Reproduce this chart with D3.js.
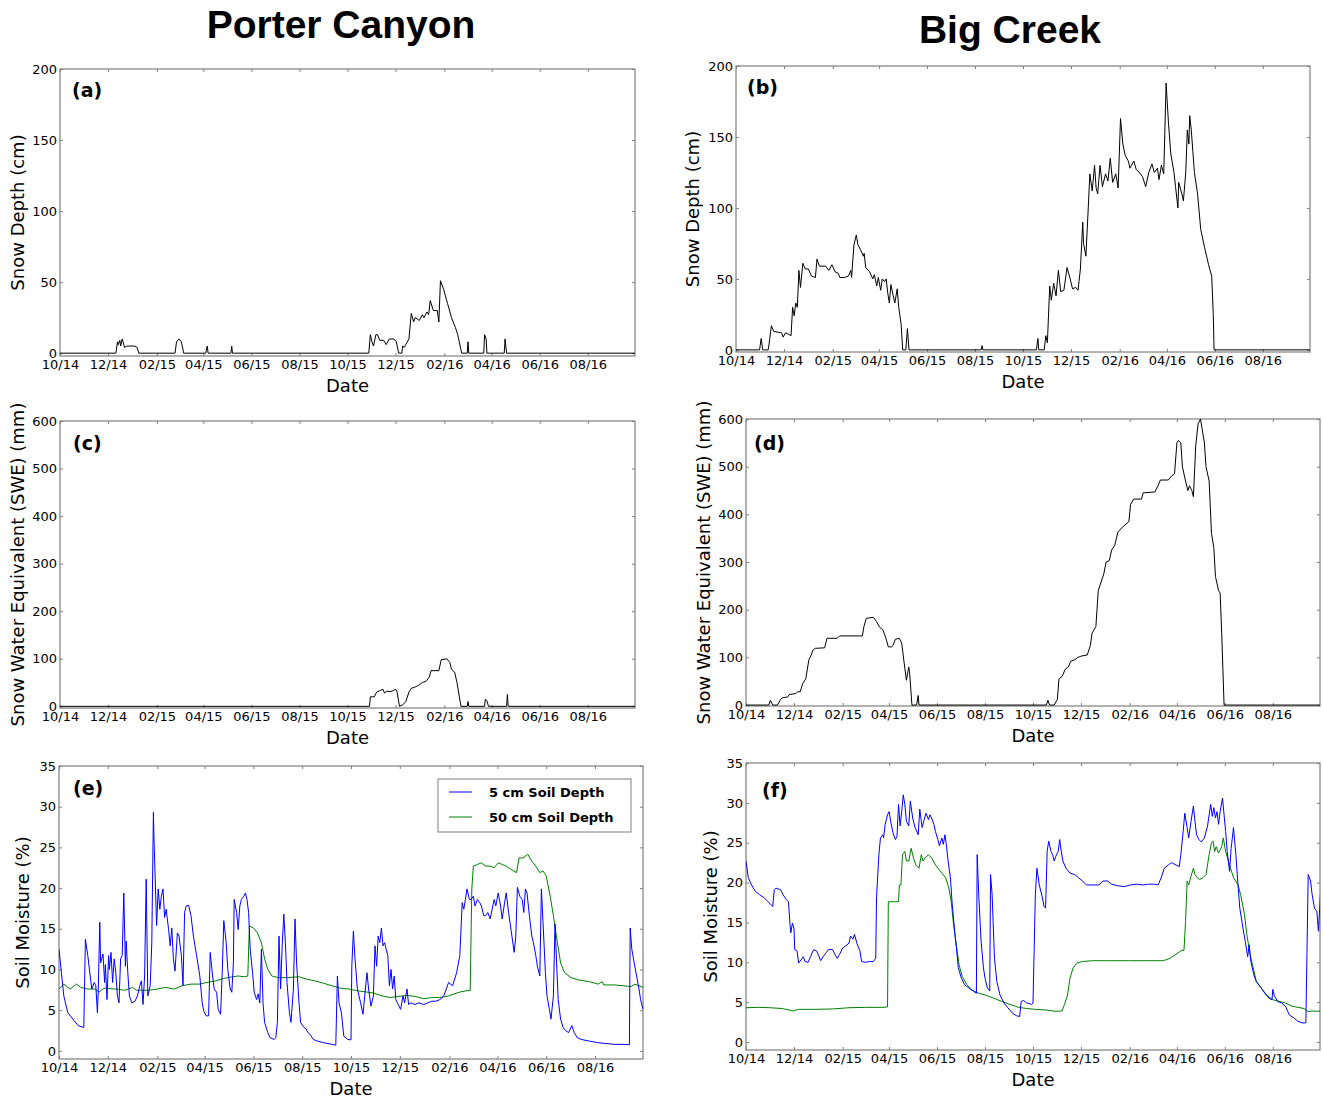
<!DOCTYPE html>
<html><head><meta charset="utf-8">
<script src="https://cdn.jsdelivr.net/npm/d3@7"></script>
<style>
body{margin:0;background:#fff}
svg{display:block}
</style>
</head><body>
<svg id="chart" width="1323" height="1097"></svg>
<script>
// ---------------- DATA ----------------
const startDate = "2014-10-01";
const endDate = "2016-09-30";
const tickDates = ["2014-10-01","2014-12-01","2015-02-01","2015-04-01","2015-06-01","2015-08-01",
                   "2015-10-01","2015-12-01","2016-02-01","2016-04-01","2016-06-01","2016-08-01"];
const tickLabels = ["10/14","12/14","02/15","04/15","06/15","08/15","10/15","12/15","02/16","04/16","06/16","08/16"];
const depthTicks = [0,50,100,150,200];
const sweTicks = [0,100,200,300,400,500,600];
const soilTicks = [0,5,10,15,20,25,30,35];
const columnTitles = ["Porter Canyon","Big Creek"];
const legendLabels = ["5 cm Soil Depth","50 cm Soil Depth"];

// day offsets are days since startDate
// (a) Porter Canyon snow depth (cm)
const porterDepthDays = [
  0,71,73,74,76,77,79,82,85,95,
  98,100,146,148,151,154,156,157,185,187,
  188,217,218,219,392,394,396,398,401,403,
  406,411,414,418,424,427,430,434,435,437,
  439,443,446,449,451,456,460,462,466,468,
  470,474,479,481,483,487,492,497,502,505,
  508,510,517,518,519,538,539,541,542,564,
  565,567,730];
const porterDepth = [
  0,0,8,6,9,5,10,4,5,5,
  4,0,0,8,10,8,3,0,0,5,
  0,0,5,0,0,13,8,5,13,13,
  9,9,6,10,10,8,0,0,5,4,
  6,10,28,22,25,23,27,25,29,27,
  37,30,30,22,51,45,35,25,18,13,
  5,0,0,8,0,0,13,10,0,0,
  10,0,0];

// (b) Big Creek snow depth (cm)
const bigDepthDays = [
  0,30,32,34,41,43,45,48,58,60,
  63,67,70,72,74,76,78,80,82,85,
  88,92,96,101,103,106,114,118,122,126,
  130,132,138,143,146,147,150,153,155,158,
  162,163,165,170,174,176,179,181,184,186,
  189,191,193,195,197,200,202,205,207,210,
  212,216,218,220,312,313,314,382,384,385,
  392,394,396,399,401,404,407,410,413,417,
  421,425,428,432,435,438,441,442,445,448,
  450,453,456,458,460,463,466,470,473,476,
  479,483,486,489,492,495,499,501,506,509,
  513,517,521,525,529,532,536,538,541,544,
  547,550,553,557,559,562,563,567,569,572,
  574,576,577,579,581,583,587,591,596,601,
  605,607,608,730];
const bigDepth = [
  0,0,8,0,0,8,17,13,12,9,
  12,11,10,30,24,33,30,56,44,61,
  57,57,52,51,64,59,59,56,60,55,
  54,51,51,52,56,51,74,81,74,71,
  66,68,58,55,50,53,45,51,42,50,
  48,50,40,33,46,38,33,43,30,18,
  0,0,15,0,0,3,0,0,8,0,
  0,10,5,45,35,47,38,56,41,42,
  58,50,43,44,42,57,90,75,66,100,
  124,112,130,114,110,130,115,124,119,135,
  118,124,114,163,145,137,133,128,133,127,
  125,122,115,125,131,125,128,120,130,124,
  188,160,138,125,115,100,118,110,105,125,
  155,145,165,155,140,125,110,85,72,60,
  52,25,0,0];

// (c) Porter Canyon SWE (mm)
const porterSweDays = [
  0,393,394,399,402,406,410,412,415,419,
  423,426,428,431,435,439,443,446,450,455,
  460,465,469,471,481,484,491,495,497,501,
  504,507,509,517,518,519,539,540,542,544,
  567,568,569,730];
const porterSwe = [
  0,0,20,20,30,33,36,28,32,31,
  33,36,30,0,3,10,30,38,40,44,
  50,53,62,75,75,98,100,92,78,72,
  50,20,0,0,10,0,0,15,12,0,
  0,25,0,0];

// (d) Big Creek SWE (mm)
const bigSweDays = [
  0,29,31,34,40,44,46,53,55,63,
  66,69,72,76,80,83,85,88,100,103,
  116,119,148,150,153,162,166,170,174,178,
  181,185,187,190,195,198,201,204,207,208,
  211,217,219,220,382,384,386,392,396,398,
  402,406,410,413,418,422,427,434,438,440,
  445,448,452,455,458,462,465,469,473,480,
  487,489,493,503,505,520,524,527,537,541,
  545,548,550,553,555,559,562,564,567,569,
  572,575,578,580,583,585,589,592,595,597,
  601,603,605,608,730];
const bigSwe = [
  0,0,10,0,0,12,15,17,22,24,
  28,28,45,55,95,105,115,119,120,140,
  140,145,145,165,182,184,175,163,158,140,
  122,122,125,138,140,130,90,52,80,70,
  0,0,20,0,0,10,0,0,12,55,
  60,75,80,92,95,100,103,105,125,150,
  165,240,260,275,300,303,325,335,363,375,
  385,420,432,432,445,447,460,472,472,480,
  485,550,555,550,500,470,450,460,450,437,
  545,590,600,580,550,500,470,360,330,270,
  240,235,150,0,0];

// (e) Porter Canyon soil moisture (%)
const porterSoil5Days = [
  0,3,6,11,19,24,30,31,33,36,
  39,41,44,46,48,49,51,52,55,57,
  58,60,62,63,65,67,69,71,73,75,
  77,79,81,83,84,86,88,91,95,98,
  101,103,105,107,109,111,114,116,118,119,
  122,124,126,128,130,132,134,137,139,141,
  143,145,148,150,153,155,157,159,162,165,
  168,172,176,179,181,184,187,189,192,194,
  197,199,202,204,206,209,211,214,216,218,
  219,222,224,226,228,231,233,235,237,239,
  242,244,247,249,251,253,255,257,261,264,
  269,271,273,275,277,279,281,283,285,288,
  290,293,295,297,300,302,306,309,311,314,
  318,323,331,341,346,348,350,353,356,361,
  365,366,368,370,373,377,380,383,385,387,
  390,393,395,397,399,401,403,405,407,409,
  411,413,415,417,419,421,423,425,427,430,
  432,435,437,440,445,450,456,461,466,471,
  476,481,487,492,497,501,504,506,508,510,
  513,515,518,520,523,526,528,531,533,536,
  539,541,544,546,549,552,554,557,559,562,
  565,569,571,573,576,579,581,583,585,588,
  591,593,596,598,601,603,605,608,610,613,
  615,618,620,622,624,627,630,633,637,641,
  644,648,653,663,674,684,694,705,713,714,
  716,719,722,725,727,730];
const porterSoil5 = [
  12.5,9.6,6.75,4.7,3.7,3.1,2.9,2.9,13.7,11.7,
  9.2,7.6,8.4,8.0,4.7,7.2,15.8,10.8,11.9,8.4,
  10.6,6.3,11.7,10,12.1,8.4,11.3,9.6,6.75,5.9,
  11.3,11.7,19.4,10.4,13.5,9.6,6.75,5.9,6.1,6.75,
  8,8.6,5.7,9.2,21.1,6.75,8,13.3,29.3,25.2,
  15.4,19.9,17.4,19,19.9,16.4,17.4,14.9,12.9,15.1,
  11.3,9.8,14.5,14.1,11.7,8.0,17,17.8,17.9,16.6,
  14.1,11.7,9.2,5.9,4.9,4.3,4.3,12.1,9.2,7.6,
  7.2,5.1,4.5,9.6,16,13.3,10,7.6,7.2,10.8,
  18.6,17,14.9,17.8,18.6,19,19.4,18.6,17,12.5,
  9.6,7.2,6.3,7,5.9,12.5,5.9,3.5,2.25,1.6,
  1.4,1.6,3.5,14.1,7.6,12.9,16.8,13.3,8.4,4.7,
  3.5,7.6,16.2,10.8,5.9,3.5,2.9,2.7,2.25,2.0,
  1.4,1.2,1.0,0.8,0.7,9.2,5.9,4.7,1.8,1.4,
  1.35,10.4,14.7,11.3,7.6,5.9,4.5,7.6,9.6,7.6,
  5.5,6.75,12.9,10.4,14.1,13.3,15.1,12.9,13.3,12.5,
  11.7,8.0,10,7.6,9.2,6.3,5.9,5.5,5.1,6.75,
  5.9,7.6,5.7,5.9,5.7,5.9,5.7,5.9,6.1,6.1,
  6.3,6.75,8.4,8,9.6,11.7,18.2,17.4,18.6,19.9,
  18.6,18.6,19,17.8,18.6,18.2,17.8,16.6,16.6,17,
  16.2,17.2,18.6,17.8,19.4,17.8,16.2,18.2,19.4,17,
  14.9,12.1,14.1,20.1,19,18.6,17,19.9,19.4,16.6,
  14.1,13.3,11.7,10.4,9.2,19.9,15.8,9.6,6.75,5.1,
  3.9,6.75,15.6,10.8,6.3,3.9,2.9,2.5,2.25,3.1,
  2.25,1.6,1.4,1.2,1.0,0.9,0.8,0.8,0.75,15.1,
  12.5,10.8,9.2,7.6,6.3,5.1];
const porterSoil50Days = [
  0,4,6,11,14,19,22,27,35,45,
  50,56,71,82,92,97,113,123,133,144,
  154,165,175,185,196,206,217,224,232,236,
  238,243,248,253,257,261,266,274,284,300,
  310,320,331,341,352,362,372,383,393,404,
  414,424,435,445,456,466,476,487,494,502,
  510,514,516,518,523,528,533,539,544,549,
  554,559,565,572,575,580,586,591,596,601,
  605,609,614,618,623,627,632,640,650,663,
  674,679,681,694,705,715,720,725,730];
const porterSoil50 = [
  7.6,8,8.2,7.8,7.6,8,8.2,7.8,7.6,7.6,
  7.2,7.7,7.6,7.45,7.8,7.45,7.45,7.6,7.8,7.6,
  8,8.2,8.2,8.4,8.6,8.9,9.1,9.2,9.1,9.2,
  15.35,15.1,14.5,13.3,11.3,10,9.2,9,9,9.1,
  8.8,8.6,8.3,8,7.7,7.6,7.4,7.25,7.1,6.75,
  6.55,6.7,6.8,6.7,6.4,6.55,6.55,6.75,7,7.25,
  7.4,7.4,19.9,22.7,22.9,23.1,22.7,22.7,22.5,23.1,
  22.9,22.7,22.3,21.9,23.7,23.7,24.15,23.3,22.7,21.9,
  22.1,21.5,19,16.6,13.3,10.8,9.6,9,8.7,8.5,
  8.2,8.5,8.1,8.1,8,7.9,8.2,8,7.8];

// (f) Big Creek soil moisture (%)
const bigSoil5Days = [
  0,3,7,12,17,23,28,32,34,36,
  38,44,47,51,54,56,57,59,61,62,
  65,67,70,73,75,79,82,86,90,93,
  95,98,102,105,110,113,116,119,123,126,
  131,133,136,138,141,145,147,152,157,162,
  165,166,169,171,174,175,177,180,182,184,
  187,190,192,194,196,198,200,202,204,207,
  209,212,215,219,221,224,226,229,232,234,
  236,239,241,244,246,249,251,253,255,257,
  260,262,265,268,270,274,278,283,289,293,
  294,296,299,302,304,307,310,311,313,316,
  319,323,328,333,339,344,348,350,353,357,
  361,363,365,368,370,373,377,379,381,383,
  385,388,390,392,394,397,399,401,403,407,
  412,418,423,428,433,441,449,454,460,465,
  473,481,489,497,504,512,520,524,528,532,
  537,541,547,551,553,556,558,561,563,566,
  569,571,573,576,579,583,587,589,591,593,
  595,597,599,601,603,606,608,610,612,615,
  617,620,623,626,628,632,635,638,640,642,
  646,649,655,660,665,669,670,672,676,681,
  686,691,697,702,707,712,715,718,720,723,
  726,728,731];
const bigSoil5 = [
  22.7,20.6,19.7,18.9,18.5,18.1,17.6,17.2,17,19.1,
  19.3,19.1,18.5,17.9,17.6,14.7,13.7,14.9,14.3,11.6,
  11.4,9.9,10.3,10.7,10.1,10,10.7,11.6,11.4,10.7,
  10.2,10.7,11.2,11.6,11.6,11,10.5,11,11.8,12,
  12.4,13.3,12.9,13.5,12.4,11.4,10.1,10,10.1,10.1,
  10.5,18.1,23.5,25.6,26,25.6,27.3,28.5,28.9,27.7,
  26.2,25.4,25.8,29.8,27.1,28.9,31,29.8,27.7,27.1,
  30.2,28.1,26.9,26,29.2,26.9,27.7,28.7,27.9,28.5,
  28.1,27.3,26.4,25.4,24.6,25.6,24.8,26,24.6,22.7,
  20.6,17.6,14.3,11.4,9.3,8,7.2,6.8,6.4,6.1,
  23.5,18.5,12.6,9.3,8,6.8,6.4,21,18.5,10.5,
  7.6,5.9,4.9,4.3,3.6,3.3,3.2,5.1,5.2,4.9,
  4.8,4.7,4.9,18.5,21.8,19.7,18.1,17,16.8,23.9,
  25.2,23.9,23.5,22.7,23.3,23.9,25.4,23.9,22.7,21.8,
  21.2,21,20.6,20.2,19.7,19.7,19.7,20.2,20.2,19.8,
  19.6,19.5,19.7,19.8,19.7,19.8,19.8,19.7,20.6,21.8,
  22.2,22.5,22.2,22,23.5,26.4,28.7,26.9,25.6,27.7,
  29.6,27.7,26,25.4,25.1,25.6,27.1,28.5,29.8,28.3,
  29.4,28.1,28.9,27.3,28.9,30.6,28.5,26.4,23.9,21.4,
  24.3,26.9,23.5,19.3,16.8,14.3,12.6,10.7,12.2,10.1,
  8.4,7.6,6.8,6.1,5.5,5.3,6.6,5.8,5.1,4.9,
  4.5,3.4,3.0,2.6,2.4,2.4,21,20.2,18.5,16.8,
  16.4,13.9,19.3];
const bigSoil50Days = [
  0,15,31,46,60,67,88,110,131,152,
  173,180,181,183,189,194,195,197,199,202,
  204,207,210,213,216,220,223,225,228,232,
  236,241,249,254,258,261,264,268,271,275,
  281,286,294,304,315,325,336,347,357,368,
  383,394,402,405,409,412,416,421,428,441,
  462,489,515,531,539,547,554,557,559,561,
  563,566,569,571,574,577,581,585,589,592,
  594,596,598,601,605,607,610,615,620,626,
  629,634,637,641,646,649,655,662,670,678,
  686,694,702,710,715,720,726,731];
const bigSoil50 = [
  4.3,4.35,4.3,4.2,3.9,4.1,4.1,4.15,4.3,4.35,
  4.35,4.4,17.6,17.6,17.6,17.6,19.7,19.7,23.5,23.9,
  22.7,22.7,24.3,23.1,22.2,21.8,23.5,22.7,23.1,23.5,
  23.1,22.2,21.2,20.6,19.3,17.6,14.7,11.8,9.7,8.2,
  7.2,6.6,6.2,5.9,5.5,5.1,4.7,4.35,4.2,4.1,
  4.0,3.85,3.9,4.7,5.9,8.0,9.3,9.9,10.1,10.2,
  10.2,10.2,10.2,10.2,10.5,11,11.5,11.5,15.1,20.2,
  19.7,20.8,21.8,21,20.6,20.4,20.6,21,23.5,25,
  25.2,23.9,24.5,23.7,24.5,25.6,23.9,22.2,20.6,19.7,
  18.5,16,13.5,11,8.9,7.6,6.8,5.9,5.3,5.1,
  4.9,4.5,4.35,4.2,3.8,3.9,3.85,3.9];

// ---------------- LAYOUT ----------------
const FONT = "'DejaVu Sans', sans-serif";
const TITLE_FONT = "'Liberation Sans', Arial, sans-serif";
const BLUE = "#0000ff", GREEN = "#008000", BLACK = "#000000", FRAME = "#7f7f7f";

const panels = [
  {id:"a", box:[60,69,635,356], ydom:[-2,200], yticks:depthTicks, ytitle:"Snow Depth (cm)", toff:42, letter:"(a)", lx:12, ly:28,
   series:[{days:porterDepthDays, vals:porterDepth, color:BLACK}]},
  {id:"b", box:[736,66,1310,352], ydom:[-1.5,200], yticks:depthTicks, ytitle:"Snow Depth (cm)", toff:43, letter:"(b)", lx:11, ly:28,
   series:[{days:bigDepthDays, vals:bigDepth, color:BLACK}]},
  {id:"c", box:[60,421,635,708], ydom:[-3.5,600], yticks:sweTicks, ytitle:"Snow Water Equivalent (SWE) (mm)", toff:42, letter:"(c)", lx:13, ly:29,
   series:[{days:porterSweDays, vals:porterSwe, color:BLACK}]},
  {id:"d", box:[746,419,1320,706], ydom:[-2,600], yticks:sweTicks, ytitle:"Snow Water Equivalent (SWE) (mm)", toff:42, letter:"(d)", lx:8, ly:31,
   series:[{days:bigSweDays, vals:bigSwe, color:BLACK}]},
  {id:"e", box:[59,766,643,1059], ydom:[-1,35], yticks:soilTicks, ytitle:"Soil Moisture (%)", toff:36, letter:"(e)", lx:14, ly:29,
   series:[{days:porterSoil50Days, vals:porterSoil50, color:GREEN},{days:porterSoil5Days, vals:porterSoil5, color:BLUE}], legend:true},
  {id:"f", box:[746,763,1320,1050], ydom:[-1,35], yticks:soilTicks, ytitle:"Soil Moisture (%)", toff:35, letter:"(f)", lx:16, ly:34,
   series:[{days:bigSoil50Days, vals:bigSoil50, color:GREEN},{days:bigSoil5Days, vals:bigSoil5, color:BLUE}]}
];

// ---------------- DRAW ----------------
const svg = d3.select("#chart");
svg.append("rect").attr("width",1323).attr("height",1097).attr("fill","#fff");
const parse = d3.timeParse("%Y-%m-%d");
const t0 = parse(startDate), t1 = parse(endDate);
const toDate = d => d3.timeDay.offset(t0, d);
const tickDateObjs = tickDates.map(parse);

// column titles
svg.append("text").attr("x",341).attr("y",38).attr("text-anchor","middle")
  .attr("font-family",TITLE_FONT).attr("font-weight","bold").attr("font-size",39).text(columnTitles[0]);
svg.append("text").attr("x",1010).attr("y",43).attr("text-anchor","middle")
  .attr("font-family",TITLE_FONT).attr("font-weight","bold").attr("font-size",39).text(columnTitles[1]);

function styleAxis(g){
  g.attr("font-family",FONT).attr("font-size",13);
  g.select(".domain").remove();
  g.selectAll(".tick line").attr("stroke",FRAME).attr("stroke-width",1);
  g.selectAll(".tick text").attr("fill","#000");
}

panels.forEach(p => {
  const [L,T,R,B] = p.box;
  const x = d3.scaleTime().domain([t0,t1]).range([L,R]);
  const y = d3.scaleLinear().domain(p.ydom).range([B,T]);
  const g = svg.append("g").attr("id","panel-"+p.id);

  g.append("clipPath").attr("id","clip-"+p.id).append("rect")
    .attr("x",L).attr("y",T).attr("width",R-L).attr("height",B-T);

  // axes (ticks inside)
  const gx = g.append("g").attr("transform",`translate(0,${B})`)
    .call(d3.axisBottom(x).tickValues(tickDateObjs).tickFormat((d,i)=>tickLabels[i])
      .tickSizeInner(-3).tickSizeOuter(0).tickPadding(4));
  styleAxis(gx);
  const gxt = g.append("g").attr("transform",`translate(0,${T})`)
    .call(d3.axisTop(x).tickValues(tickDateObjs).tickFormat("").tickSizeInner(-3).tickSizeOuter(0));
  styleAxis(gxt);
  const gy = g.append("g").attr("transform",`translate(${L},0)`)
    .call(d3.axisLeft(y).tickValues(p.yticks).tickFormat(d3.format("d"))
      .tickSizeInner(-3).tickSizeOuter(0).tickPadding(3));
  styleAxis(gy);
  const gyr = g.append("g").attr("transform",`translate(${R},0)`)
    .call(d3.axisRight(y).tickValues(p.yticks).tickFormat("").tickSizeInner(-3).tickSizeOuter(0));
  styleAxis(gyr);

  // frame
  g.append("rect").attr("x",L).attr("y",T).attr("width",R-L).attr("height",B-T)
    .attr("fill","none").attr("stroke",FRAME).attr("stroke-width",1.2);

  // series
  const line = d3.line().x(d=>x(d[0])).y(d=>y(d[1]));
  p.series.forEach(s => {
    const pts = s.days.map((d,i)=>[toDate(d), s.vals[i]]);
    g.append("path").datum(pts).attr("clip-path",`url(#clip-${p.id})`)
      .attr("fill","none").attr("stroke",s.color).attr("stroke-width",1)
      .attr("stroke-linejoin","round").attr("d",line);
  });

  // axis titles
  g.append("text").attr("x",(L+R)/2).attr("y",B+35.5).attr("text-anchor","middle")
    .attr("font-family",FONT).attr("font-size",18).text("Date");
  g.append("text").attr("transform",`translate(${L-p.toff+6},${(T+B)/2}) rotate(-90)`)
    .attr("text-anchor","middle").attr("font-family",FONT).attr("font-size",18).text(p.ytitle);

  // panel letter
  g.append("text").attr("x",L+p.lx).attr("y",T+p.ly).attr("font-family",FONT)
    .attr("font-weight","bold").attr("font-size",19).text(p.letter);

  if (p.legend) {
    const lg = g.append("g");
    lg.append("rect").attr("x",438).attr("y",779).attr("width",193).attr("height",53)
      .attr("fill","#fff").attr("stroke",FRAME).attr("stroke-width",1);
    const cols = [BLUE, GREEN];
    [792, 817].forEach((ly,i) => {
      lg.append("line").attr("x1",449).attr("x2",472).attr("y1",ly).attr("y2",ly)
        .attr("stroke",cols[i]).attr("stroke-width",1);
      lg.append("text").attr("x",489).attr("y",ly+4.7).attr("font-family",FONT)
        .attr("font-weight","bold").attr("font-size",13).text(legendLabels[i]);
    });
  }
});
</script>
</body></html>
